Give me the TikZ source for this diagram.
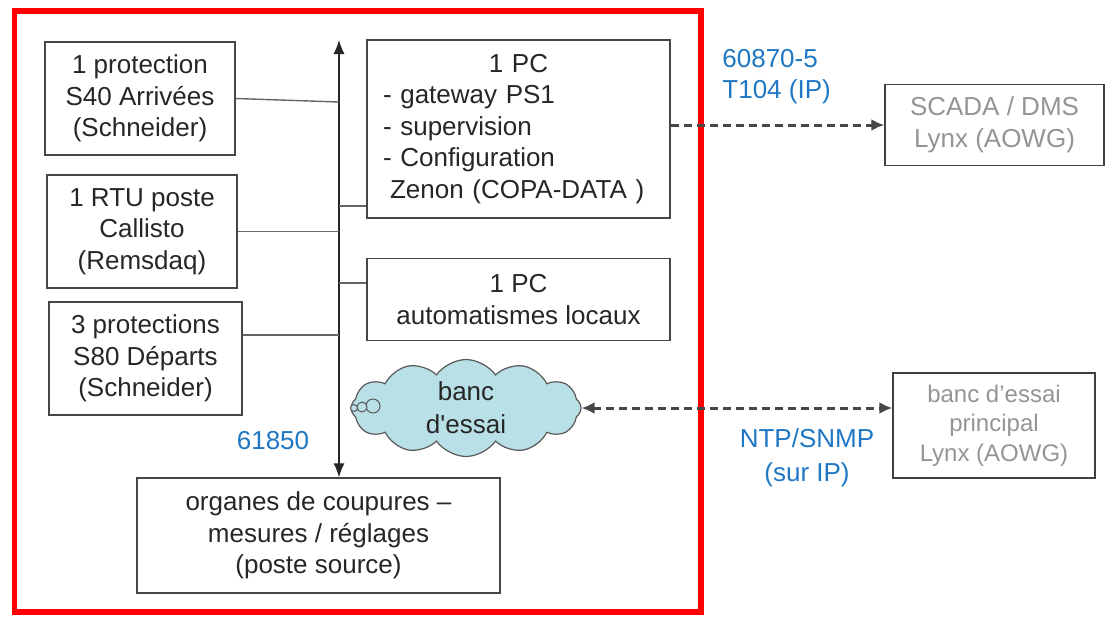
\documentclass[tikz,border=0pt]{standalone}
\usepackage{fontspec}
\setmainfont{Liberation Sans}
\usepackage{tikz}
\usetikzlibrary{positioning,arrows.meta,shapes.symbols,calc}
\definecolor{bleu}{RGB}{31,119,196}
\definecolor{nuage}{RGB}{185,224,230}
\definecolor{trait}{RGB}{70,70,70}

\begin{document}
\begin{tikzpicture}[x=0.5pt,y=0.5pt,
    box/.style={draw=trait,line width=0.7pt,align=center,text=black!85,inner sep=0pt,font=\fontsize{13}{15.75}\selectfont},
    gbox/.style={box,draw=black!75,text=black!42},
    lien/.style={draw=black!60,line width=0.7pt},
    arr/.style={{Latex[length=7pt,width=5.5pt]}-{Latex[length=7pt,width=5.5pt]},line width=0.6pt,draw=black!85},
    dasharr/.style={-{Latex[length=6.5pt,width=6pt]},dash pattern=on 4pt off 2.5pt,line width=1.5pt,draw=black!72},
    bulle/.style={circle,draw=black!65,fill=nuage,line width=0.5pt,inner sep=0pt},
    lbl/.style={text=bleu,inner sep=0pt,font=\fontsize{13}{15.5}\selectfont}
  ]
    \useasboundingbox (0,0) rectangle (1107,-617);
    \node[box,minimum width=95pt,minimum height=56.5pt] (prot1) at (140,-98.5) {1 protection\\S40 Arrivées\\(Schneider)};
    \node[box,minimum width=95pt,minimum height=56.5pt] (rtu) at (142,-231.5) {1 RTU poste\\Callisto\\(Remsdaq)};
    \node[box,minimum width=96.5pt,minimum height=56.5pt] (prot3) at (145.5,-358.5) {3 protections\\S80 Départs\\(Schneider)};
    \node[box,align=left,text width=135.5pt,inner xsep=8pt,minimum height=89pt] (pc) at (518.5,-129)
      {\makebox[\linewidth]{1 PC}\\- gateway PS1\\- supervision\\- Configuration\\\hspace*{3.5pt}Zenon (COPA-DATA )};
    \node[box,below=19.5pt of pc,minimum width=151.5pt,minimum height=41pt] (pc2) {1 PC\\automatismes locaux};
    \node[box,minimum width=181.5pt,minimum height=57.5pt] (organes) at (318.5,-535.5) {organes de coupures –\\mesures / réglages\\(poste source)};
    \node[cloud,cloud puffs=12,cloud puff arc=110,aspect=2.6,draw=black!65,line width=0.6pt,fill=nuage,
      minimum width=115pt,minimum height=42pt,inner sep=0pt,align=center,text=black!85,
      font=\fontsize{13}{16.5}\selectfont] (banc) at (466,-408) {banc\\d\textquotesingle essai};
    \node[bulle,minimum size=7pt] (bul1) at (373,-406) {};
    \node[bulle,minimum size=5pt] (bul2) at (362,-407) {};
    \node[bulle,minimum size=3.5pt] (bul3) at (354,-408) {};
    \node[gbox,minimum width=109.5pt,minimum height=40.5pt] (scada) at (994.5,-125) {SCADA / DMS\\Lynx (AOWG)};
    \node[gbox,minimum width=101pt,minimum height=52.5pt,font=\fontsize{12}{14.75}\selectfont] (bancp) at (994,-425.5) {banc d'essai\\principal\\Lynx (AOWG)};
    \node[lbl,align=left,anchor=west] (iec104) at (722,-77) {60870-5\\T104 (IP)};
    \node[lbl] (iec61850) at (273,-441) {61850};
    \node[lbl,align=center,font=\fontsize{13}{17}\selectfont] (ntp) at (807,-458) {NTP/SNMP\\(sur IP)};
    \coordinate (bus) at (339,-40);
    \coordinate (j1) at (339,-102);
    \coordinate (j3) at (339,-335);
    \coordinate (j4) at (339,-206);
    \coordinate (j5) at (339,-283);
    \draw[arr] (bus) -- (bus |- organes.north);
    \draw[lien] (prot1.east) -- (j1);
    \draw[lien] (rtu.east) -- (rtu.east -| bus);
    \draw[lien] (prot3.east |- j3) -- (j3);
    \draw[lien] (j4) -- (j4 -| pc.west);
    \draw[lien] (j5) -- (j5 -| pc2.west);
    \draw[red,line width=2.6pt] (14.5,-11) rectangle (701,-612);
    \draw[dasharr] (pc.east |- scada.west) -- (scada.west);
    \draw[dasharr,{Latex[length=6.5pt,width=6pt]}-{Latex[length=6.5pt,width=6pt]}] (banc.east) -- (banc.east -| bancp.west);
  \end{tikzpicture}
\end{document}
